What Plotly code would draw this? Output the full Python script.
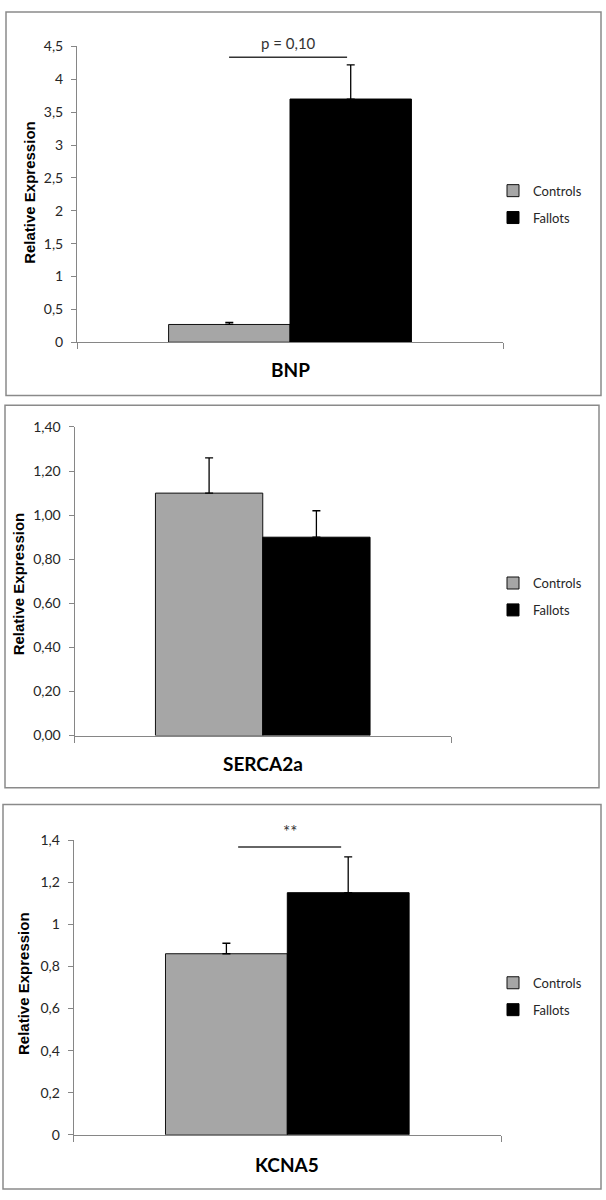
import plotly.graph_objects as go

# ---------------- data ----------------
genes = ["BNP", "SERCA2a", "KCNA5"]
groups = ["Controls", "Fallots"]
controls_mean = [0.27, 1.10, 0.86]
controls_sem = [0.03, 0.16, 0.05]
fallots_mean = [3.70, 0.90, 1.15]
fallots_sem = [0.52, 0.12, 0.17]

y_max = [4.5, 1.4, 1.4]
tick_vals = [
    [0, 0.5, 1, 1.5, 2, 2.5, 3, 3.5, 4, 4.5],
    [0, 0.2, 0.4, 0.6, 0.8, 1.0, 1.2, 1.4],
    [0, 0.2, 0.4, 0.6, 0.8, 1.0, 1.2, 1.4],
]
tick_text = [
    ["0", "0,5", "1", "1,5", "2", "2,5", "3", "3,5", "4", "4,5"],
    ["0,00", "0,20", "0,40", "0,60", "0,80", "1,00", "1,20", "1,40"],
    ["0", "0,2", "0,4", "0,6", "0,8", "1", "1,2", "1,4"],
]
sig_labels = ["p = 0,10", None, "**"]
y_title = "Relative Expression"

# ---------------- layout (pixel geometry) ----------------
W, H = 606, 1200
panels = [
    dict(ax0=77, ax1=503, py0=338, py1=38, box=(6, 3, 601, 392),
         leg_y=198, yt=(29.5, 186), xl_y=366,
         sig=dict(x0=-0.143, x1=0.134, y=4.335, ty=34, tsize=15)),
    dict(ax0=74.5, ax1=451, py0=737, py1=424, box=(5, 402, 599, 790),
         leg_y=596, yt=(18.6, 583), xl_y=765, sig=None),
    dict(ax0=73.6, ax1=501, py0=1142, py1=843, box=(3, 807, 601, 1197),
         leg_y=1001.5, yt=(24, 989), xl_y=1172,
         sig=dict(x0=-0.115, x1=0.126, y=1.367, ty=834, tsize=17)),
]

def px(x):
    return x / W

def py(y):
    return 1 - y / H

fig = go.Figure()
shapes = []
annotations = []
layout = dict(
    width=W, height=H, margin=dict(l=0, r=0, t=0, b=0),
    paper_bgcolor="white", plot_bgcolor="white",
    barmode="group", bargap=0.43, bargroupgap=0,
    font=dict(family="Lato", size=13, color="#262626"),
)

for i, g in enumerate(genes):
    p = panels[i]
    sfx = "" if i == 0 else str(i + 1)
    xa, ya = "x" + sfx, "y" + sfx
    leg = "legend" if i == 0 else "legend" + str(i + 1)

    fig.add_trace(go.Bar(
        x=[g], y=[controls_mean[i]], name=groups[0], xaxis=xa, yaxis=ya,
        marker=dict(color="#a6a6a6", line=dict(color="#111111", width=1)),
        error_y=dict(type="data", symmetric=False, array=[controls_sem[i]],
                     arrayminus=[0], color="black", thickness=1.3, width=4),
        legend=leg, legendgroup=f"c{i}",
    ))
    fig.add_trace(go.Bar(
        x=[g], y=[fallots_mean[i]], name=groups[1], xaxis=xa, yaxis=ya,
        marker=dict(color="#000000", line=dict(color="#000000", width=1)),
        error_y=dict(type="data", symmetric=False, array=[fallots_sem[i]],
                     arrayminus=[0], color="black", thickness=1.3, width=4),
        legend=leg, legendgroup=f"f{i}",
    ))

    layout["xaxis" + sfx] = dict(
        domain=[px(p["ax0"]), px(p["ax1"])], anchor=ya, type="category",
        showline=True, linecolor="#868686", linewidth=1,
        ticks="outside", tickson="boundaries", ticklen=6, tickcolor="#868686",
        showticklabels=False, showgrid=False, zeroline=False, fixedrange=True,
    )
    layout["yaxis" + sfx] = dict(
        domain=[py(p["py0"]), py(p["py1"])], anchor=xa,
        range=[0, y_max[i]], tickvals=tick_vals[i], ticktext=tick_text[i],
        showline=True, linecolor="#868686", linewidth=1,
        ticks="outside", ticklen=5, tickcolor="#868686", ticklabelstandoff=5,
        tickfont=dict(family="Lato", size=14, color="#262626"),
        showgrid=False, zeroline=False, fixedrange=True,
    )
    layout[leg] = dict(
        x=px(493), xanchor="left", y=py(p["leg_y"]), yanchor="middle",
        font=dict(family="Lato", size=13, color="#262626"),
        bgcolor="rgba(0,0,0,0)", traceorder="grouped", tracegroupgap=7,
    )

    bx0, by0, bx1, by1 = p["box"]
    shapes.append(dict(type="rect", xref="paper", yref="paper",
                       x0=px(bx0), x1=px(bx1), y0=py(by1), y1=py(by0),
                       line=dict(color="#8a8a8a", width=1.5), layer="below"))

    annotations.append(dict(
        text=y_title, textangle=-90, xref="paper", yref="paper",
        x=px(p["yt"][0]), y=py(p["yt"][1]), xanchor="center", yanchor="middle",
        showarrow=False,
        font=dict(family="Liberation Sans", size=15, color="black", weight="bold"),
    ))
    annotations.append(dict(
        text=f"<b>{g}</b>", xref=xa + " domain", yref="paper",
        x=0.5, y=py(p["xl_y"]), xanchor="center", yanchor="middle",
        showarrow=False, font=dict(family="Lato", size=19, color="black"),
    ))

    s = p["sig"]
    if s is not None and sig_labels[i]:
        shapes.append(dict(type="line", xref=xa, yref=ya,
                           x0=s["x0"], x1=s["x1"], y0=s["y"], y1=s["y"],
                           line=dict(color="#333333", width=1.5)))
        annotations.append(dict(
            text=sig_labels[i], xref=xa, yref="paper",
            x=(s["x0"] + s["x1"]) / 2, y=py(s["ty"]),
            xanchor="center", yanchor="middle", showarrow=False,
            font=dict(family="Lato", size=s["tsize"], color="#333333"),
        ))

layout["shapes"] = shapes
layout["annotations"] = annotations
fig.update_layout(**layout)

fig.write_html("out.html", config={"displayModeBar": False},
               post_script="document.body.style.margin='0';")
